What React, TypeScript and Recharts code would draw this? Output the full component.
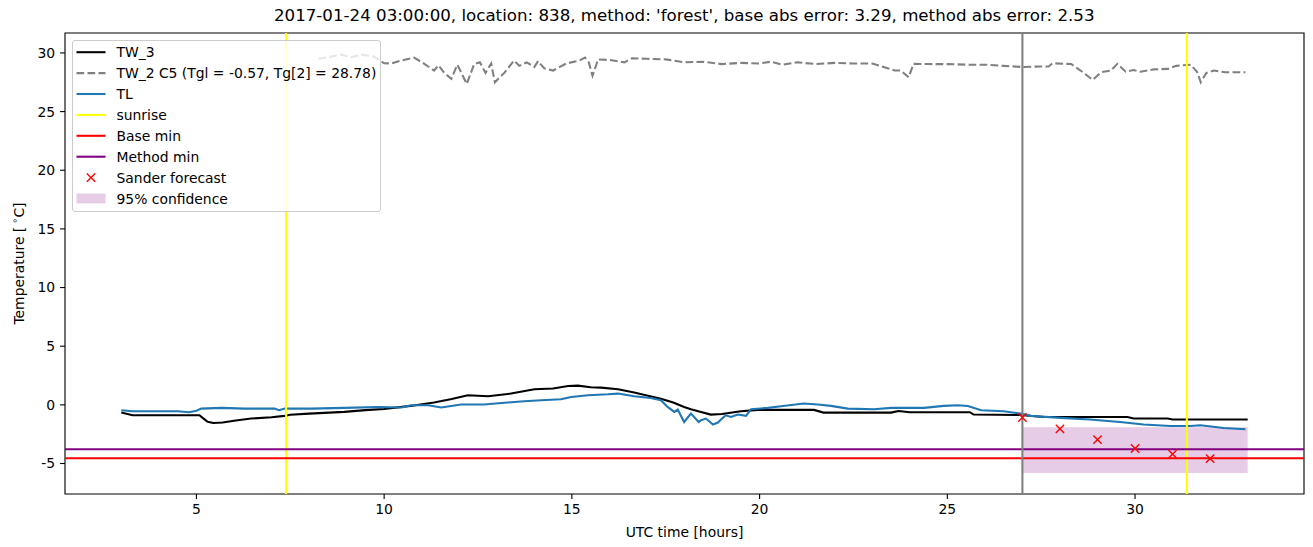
import React from 'react';
import {
  ComposedChart,
  Line,
  Scatter,
  XAxis,
  YAxis,
  ReferenceLine,
  ReferenceArea,
  Legend,
} from 'recharts';

const FONT = '"DejaVu Sans", sans-serif';

const titleText =
  "2017-01-24 03:00:00, location: 838, method: 'forest', base abs error: 3.29, method abs error: 2.53";
const xLabel = 'UTC time [hours]';

const xTicks = [5, 10, 15, 20, 25, 30];
const yTicks = [-5, 0, 5, 10, 15, 20, 25, 30];
const xDomain = [1.5, 34.5];
const yDomain = [-7.6, 31.7];

const tw3Hours = [
  3.0, 3.3, 4.0, 4.5, 5.08, 5.2, 5.3, 5.45, 5.7, 6.0, 6.46, 7.0, 7.35, 7.5, 8.0, 8.94, 9.5, 10.0,
  10.7, 11.33, 11.8, 12.23, 12.77, 13.38, 14.0, 14.5, 14.9, 15.16, 15.5, 15.78, 16.23, 16.66, 17.0,
  17.37, 17.7, 17.99, 18.17, 18.44, 18.7, 19.0, 19.5, 19.95, 21.45, 21.7, 23.5, 23.7, 24.0, 25.6,
  25.7, 26.95, 27.57, 29.8, 29.96, 30.87, 31.0, 33.0,
];
const tw3Values = [
  -0.66, -0.89, -0.89, -0.89, -0.89, -1.2, -1.45, -1.54, -1.5, -1.35, -1.17, -1.05, -0.94, -0.85,
  -0.75, -0.6, -0.45, -0.35, -0.09, 0.2, 0.5, 0.82, 0.73, 0.96, 1.33, 1.4, 1.61, 1.64, 1.5, 1.47,
  1.33, 1.05, 0.8, 0.53, 0.2, -0.18, -0.37, -0.6, -0.83, -0.78, -0.55, -0.43, -0.43, -0.66, -0.66,
  -0.52, -0.63, -0.63, -0.83, -0.86, -1.03, -1.03, -1.17, -1.17, -1.25, -1.25,
];

const tw2Hours = [
  8.25, 8.6, 8.86, 9.12, 9.39, 9.73, 10.0, 10.2, 10.45, 10.8, 11.07, 11.33, 11.45, 11.6, 11.79,
  11.95, 12.2, 12.4, 12.55, 12.7, 12.85, 12.95, 13.2, 13.46, 13.6, 13.8, 14.0, 14.1, 14.26, 14.5,
  14.85, 15.2, 15.35, 15.45, 15.55, 15.7, 16.0, 16.4, 16.6, 17.0, 17.5, 18.0, 18.5, 19.0, 19.5,
  20.0, 20.3, 20.6, 21.0, 21.5, 22.0, 22.5, 23.0, 23.3, 23.6, 23.76, 23.97, 24.1, 24.5, 25.0, 25.5,
  26.0, 26.5, 27.0, 27.5, 27.7, 27.8, 28.3, 28.55, 28.87, 29.1, 29.35, 29.53, 29.75, 29.96, 30.15,
  30.5, 30.87, 31.1, 31.48, 31.65, 31.75, 31.9, 32.1, 32.4, 32.94,
];
const tw2Values = [
  29.5, 29.7, 29.86, 29.63, 29.86, 29.69, 29.12, 29.1, 29.35, 29.6, 29.07, 28.5, 28.95, 28.3, 27.8,
  29.0, 27.36, 29.07, 29.2, 28.3, 29.1, 27.5, 28.3, 29.35, 28.9, 29.2, 28.8, 29.3, 28.7, 28.5, 29.1,
  29.35, 29.6, 29.2, 28.06, 29.45, 29.4, 29.2, 29.55, 29.5, 29.45, 29.2, 29.25, 29.05, 29.15, 29.1,
  29.25, 29.0, 29.2, 29.05, 29.15, 29.1, 29.1, 28.8, 28.5, 28.5, 27.93, 29.07, 29.05, 29.05, 29.0,
  29.0, 28.9, 28.8, 28.85, 28.85, 29.12, 29.05, 28.5, 27.7, 28.36, 28.5, 29.07, 28.4, 28.55, 28.4,
  28.6, 28.64, 28.9, 29.0, 28.4, 27.5, 28.3, 28.5, 28.36, 28.36,
];

const tlHours = [
  3.0, 3.3, 4.5, 4.8, 5.0, 5.13, 5.67, 6.28, 7.08, 7.2, 7.35, 8.06, 8.94, 9.84, 10.46, 10.72, 11.17,
  11.52, 12.05, 12.66, 13.29, 13.73, 14.18, 14.71, 14.98, 15.43, 15.96, 16.23, 16.66, 17.1, 17.37,
  17.55, 17.73, 17.82, 17.99, 18.17, 18.38, 18.44, 18.57, 18.76, 18.89, 19.02, 19.1, 19.24, 19.42,
  19.64, 19.77, 20.22, 20.57, 21.18, 21.55, 21.9, 22.35, 23.05, 23.5, 24.38, 24.9, 25.28, 25.55,
  25.9, 26.5, 26.95, 27.22, 28.02, 28.8, 29.6, 30.23, 30.94, 31.48, 31.74, 32.36, 32.94,
];
const tlValues = [
  -0.46, -0.55, -0.55, -0.63, -0.5, -0.32, -0.26, -0.32, -0.32, -0.46, -0.32, -0.32, -0.26, -0.18,
  -0.23, -0.03, -0.03, -0.23, 0.03, 0.03, 0.2, 0.31, 0.39, 0.48, 0.67, 0.82, 0.9, 0.96, 0.73, 0.59,
  0.39, -0.18, -0.6, -0.4, -1.46, -0.74, -1.46, -1.31, -1.17, -1.68, -1.51, -1.11, -0.89, -1.03,
  -0.83, -0.94, -0.37, -0.26, -0.12, 0.11, 0.03, -0.09, -0.32, -0.37, -0.26, -0.26, -0.09, -0.03,
  -0.09, -0.46, -0.55, -0.74, -0.94, -1.11, -1.25, -1.46, -1.68, -1.8, -1.8, -1.74, -1.97, -2.08,
];

const sunriseHours = [7.39, 31.38];
const forecastStartHour = 27.0;
const baseMinValue = -4.55;
const methodMinValue = -3.78;

const forecastHours = [27, 28, 29, 30, 31, 32];
const forecastValues = [-1.08, -2.05, -2.96, -3.72, -4.2, -4.58];

const confidenceHours = [27, 33];
const confidenceValues = [-5.8, -1.91];

const legendLabels = [
  'TW_3',
  'TW_2 C5 (Tgl = -0.57, Tg[2] = 28.78)',
  'TL',
  'sunrise',
  'Base min',
  'Method min',
  'Sander forecast',
  '95% confidence',
];

const zip = (h: number[], v: number[]) => h.map((t, i) => ({ t, v: v[i] }));
const tw3Data = zip(tw3Hours, tw3Values);
const tw2Data = zip(tw2Hours, tw2Values);
const tlData = zip(tlHours, tlValues);
const forecastData = zip(forecastHours, forecastValues);

const LW = 2.08;
const DASH = '7.7 3.3';

const XMark = (props: any) => {
  const { cx, cy } = props;
  if (cx == null || cy == null) return null;
  const s = 4.17;
  return (
    <path
      d={`M${cx - s},${cy - s}L${cx + s},${cy + s}M${cx - s},${cy + s}L${cx + s},${cy - s}`}
      stroke="red"
      strokeWidth={1.39}
      fill="none"
    />
  );
};

const LegendBox = () => {
  const rowY = (i: number) => 11.2 + 20.9 * i;
  const x0 = 3.5;
  const x1 = 32.5;
  const tx = 43.5;
  const sample = (i: number) => {
    const y = rowY(i);
    switch (i) {
      case 0:
        return <line x1={x0} x2={x1} y1={y} y2={y} stroke="#000" strokeWidth={LW} />;
      case 1:
        return <line x1={x0} x2={x1} y1={y} y2={y} stroke="gray" strokeWidth={LW} strokeDasharray={DASH} />;
      case 2:
        return <line x1={x0} x2={x1} y1={y} y2={y} stroke="#1f77b4" strokeWidth={LW} />;
      case 3:
        return <line x1={x0} x2={x1} y1={y} y2={y} stroke="yellow" strokeWidth={LW} />;
      case 4:
        return <line x1={x0} x2={x1} y1={y} y2={y} stroke="red" strokeWidth={LW} />;
      case 5:
        return <line x1={x0} x2={x1} y1={y} y2={y} stroke="purple" strokeWidth={LW} />;
      case 6:
        return <XMark cx={(x0 + x1) / 2} cy={y} />;
      default:
        return <rect x={x0} y={y - 4.9} width={x1 - x0} height={9.8} fill="purple" fillOpacity={0.2} />;
    }
  };
  return (
    <div
      style={{
        width: 309,
        height: 172,
        boxSizing: 'border-box',
        background: 'rgba(255,255,255,0.8)',
        border: '1px solid #cccccc',
        borderRadius: 3,
      }}
    >
      <svg width={307} height={170} style={{ display: 'block' }}>
        {legendLabels.map((label, i) => (
          <g key={label}>
            {sample(i)}
            <text x={tx} y={rowY(i) + 5} fontFamily={FONT} fontSize={13.9} fill="#000">
              {label}
            </text>
          </g>
        ))}
      </svg>
    </div>
  );
};

const YLabel = (props: any) => {
  const vb = props.viewBox || { x: 0, y: 33, width: 65, height: 461 };
  const cx = vb.x + 18.5;
  const cy = vb.y + vb.height / 2;
  return (
    <text
      x={cx}
      y={cy}
      transform={`rotate(-90, ${cx}, ${cy})`}
      textAnchor="middle"
      dominantBaseline="central"
      fontFamily={FONT}
      fontSize={13.9}
      fill="#000"
    >
      Temperature [
      <tspan fontSize={9.7} dy={-5}>
        {' ∘'}
      </tspan>
      <tspan dy={5}>C]</tspan>
    </text>
  );
};

export default function App() {
  const tickStyle = { fill: '#000', fontSize: 13.9, fontFamily: FONT };
  return (
    <div
      style={{
        position: 'absolute',
        left: 0,
        top: 0,
        width: 1313,
        height: 547,
        background: '#fff',
        fontFamily: FONT,
      }}
    >
      <ComposedChart width={1313} height={547} margin={{ top: 33, right: 9, bottom: 0, left: 0 }}>
        <XAxis
          dataKey="t"
          type="number"
          domain={xDomain}
          ticks={xTicks}
          allowDataOverflow
          axisLine={false}
          tickLine={{ stroke: '#000', strokeWidth: 1.11 }}
          tickSize={4.9}
          tickMargin={5}
          tick={tickStyle}
          height={53}
          label={{
            value: xLabel,
            position: 'insideBottom',
            offset: 10,
            fill: '#000',
            fontSize: 13.9,
            fontFamily: FONT,
          }}
        />
        <YAxis
          dataKey="v"
          type="number"
          domain={yDomain}
          ticks={yTicks}
          allowDataOverflow
          axisLine={false}
          tickLine={{ stroke: '#000', strokeWidth: 1.11 }}
          tickSize={4.9}
          tickMargin={4.9}
          tick={tickStyle}
          width={65}
          label={<YLabel />}
        />
        <ReferenceArea
          x1={confidenceHours[0]}
          x2={confidenceHours[1]}
          y1={confidenceValues[0]}
          y2={confidenceValues[1]}
          fill="purple"
          fillOpacity={0.2}
          stroke="none"
        />
        <Line
          data={tw3Data}
          dataKey="v"
          type="linear"
          stroke="#000"
          strokeWidth={LW}
          dot={false}
          isAnimationActive={false}
          name="TW_3"
        />
        <Line
          data={tw2Data}
          dataKey="v"
          type="linear"
          stroke="gray"
          strokeWidth={LW}
          strokeDasharray={DASH}
          dot={false}
          isAnimationActive={false}
          name="TW_2"
        />
        <Line
          data={tlData}
          dataKey="v"
          type="linear"
          stroke="#1f77b4"
          strokeWidth={LW}
          dot={false}
          isAnimationActive={false}
          name="TL"
        />
        {sunriseHours.map((h) => (
          <ReferenceLine key={h} x={h} stroke="yellow" strokeWidth={LW} />
        ))}
        <ReferenceLine y={baseMinValue} stroke="red" strokeWidth={LW} />
        <ReferenceLine y={methodMinValue} stroke="purple" strokeWidth={LW} />
        <ReferenceLine x={forecastStartHour} stroke="gray" strokeWidth={LW} />
        <Scatter
          data={forecastData}
          dataKey="v"
          shape={<XMark />}
          isAnimationActive={false}
          name="Sander forecast"
        />
        <ReferenceArea
          x1={xDomain[0]}
          x2={xDomain[1]}
          y1={yDomain[0]}
          y2={yDomain[1]}
          fill="none"
          stroke="#000"
          strokeWidth={1.11}
          ifOverflow="extendDomain"
        />
        <Legend
          layout="vertical"
          align="center"
          verticalAlign="middle"
          content={() => <LegendBox />}
          wrapperStyle={{ left: 71.5, top: 39.5, width: 309, height: 172, margin: 0 }}
        />
      </ComposedChart>
      <div
        style={{
          position: 'absolute',
          left: 64.5,
          width: 1239.5,
          top: 6,
          textAlign: 'center',
          fontFamily: FONT,
          fontSize: 16.67,
          lineHeight: '20px',
          color: '#000',
          whiteSpace: 'nowrap',
        }}
      >
        {titleText}
      </div>
    </div>
  );
}
